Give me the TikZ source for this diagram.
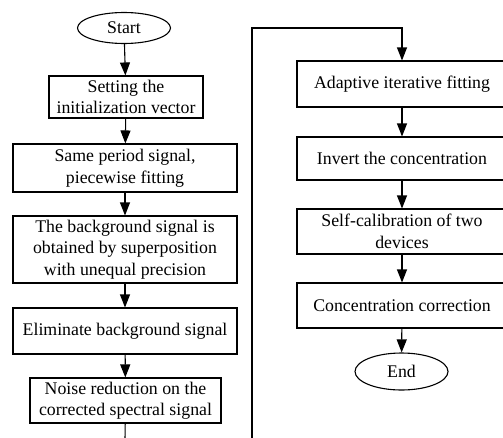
\documentclass[tikz,border=0pt]{standalone}
\usepackage{fontspec}
\setmainfont{Liberation Serif}
\usetikzlibrary{shapes.geometric,arrows.meta}

\tikzset{
  stepbox/.style={draw, line width=1.1pt, inner sep=0pt, align=center, minimum width=224pt},
  term/.style={draw, ellipse, line width=1.1pt, inner sep=0pt, minimum width=93pt},
  flow/.style={line width=1.1pt, -{Triangle[length=13pt,width=10pt]}},
}

\begin{document}
\begin{tikzpicture}[x=1pt, y=-1pt, font=\fontsize{17.8}{21.5}\selectfont]
\useasboundingbox (0,0) rectangle (503,437);
%\draw[help lines, color=gray!30] (0,0) grid[step=50] (503,437);
\node[term, minimum height=31pt] (start) at (124,28) {Start};
\node[stepbox, minimum width=154pt, minimum height=42pt] (init) at (126,97) {Setting the\\initialization vector};
\node[stepbox, minimum height=48pt] (piece) at (125,168) {Same period signal,\\piecewise fitting};
\node[stepbox, minimum height=67pt] (super) at (125,249.5) {The background signal is\\obtained by superposition\\with unequal precision};
\node[stepbox, minimum height=46pt] (elim) at (125,331) {Eliminate background signal};
\node[stepbox, minimum width=191pt, minimum height=45pt] (noise) at (125.5,400.5) {Noise reduction on the\\corrected spectral signal};

\node[stepbox, minimum width=210pt, minimum height=46pt] (adapt) at (402,84) {Adaptive iterative fitting};
\node[stepbox, minimum width=210pt, minimum height=43pt] (invert) at (402,158.5) {Invert the concentration};
\node[stepbox, minimum width=210pt, minimum height=45pt] (calib) at (402,231.5) {Self-calibration of two\\devices};
\node[stepbox, minimum width=210pt, minimum height=45pt] (correct) at (402,305.5) {Concentration correction};
\node[term, minimum height=37pt] (end) at (401.5,371.5) {End};

\coordinate (lowL) at (125,440);
\coordinate (lowR) at (252,440);
\coordinate (topR) at (252,28);

\draw[flow] (start) -- (init);
\draw[flow] (init) -- (piece);
\draw[flow] (piece) -- (super);
\draw[flow] (super) -- (elim);
\draw[flow] (elim) -- (noise);
\draw[line width=1.1pt] (noise) -- (lowL);
\draw[flow] (lowR) -- (topR) -| (adapt);
\draw[flow] (adapt) -- (invert);
\draw[flow] (invert) -- (calib);
\draw[flow] (calib) -- (correct);
\draw[flow] (correct) -- (end);
\end{tikzpicture}
\end{document}
